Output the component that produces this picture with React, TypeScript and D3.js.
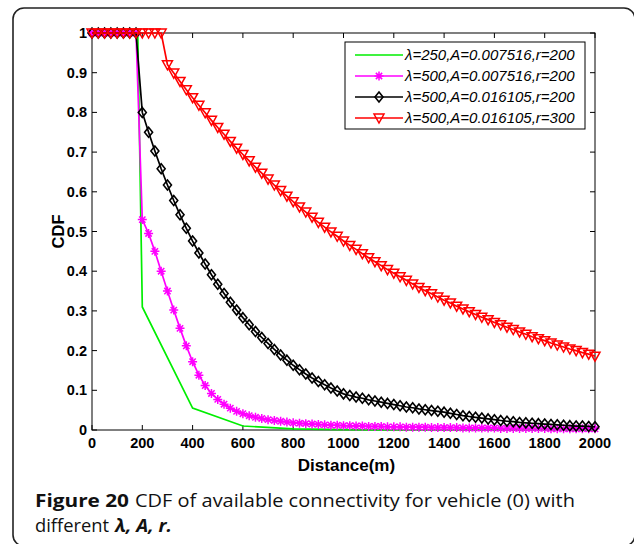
import React from "react";
import * as d3 from "d3";

const X_TICKS = [0, 200, 400, 600, 800, 1000, 1200, 1400, 1600, 1800, 2000];
const Y_TICKS = [0, 0.1, 0.2, 0.3, 0.4, 0.5, 0.6, 0.7, 0.8, 0.9, 1];
const Y_LABELS = ["0", "0.1", "0.2", "0.3", "0.4", "0.5", "0.6", "0.7", "0.8", "0.9", "1"];

const DIST = d3.range(0, 2001, 25);

const GREEN_X = [0, 182, 200, 400, 600, 800, 1000, 1200, 1400, 1600, 1800, 2000];
const GREEN_Y = [1, 1, 0.31, 0.055, 0.01, 0.003, 0.001, 0, 0, 0, 0, 0];

const MAGENTA_Y = [
  1, 1, 1, 1, 1, 1, 1, 1,
  0.530, 0.495, 0.450, 0.400, 0.350, 0.302, 0.256, 0.212, 0.172, 0.138,
  0.112, 0.092, 0.077, 0.065, 0.055, 0.047, 0.041, 0.036, 0.032, 0.029,
  0.026, 0.024, 0.022, 0.020, 0.018, 0.017, 0.016, 0.015, 0.014, 0.013,
  0.012, 0.012, 0.011,
  0.011, 0.010, 0.010, 0.009, 0.009, 0.009, 0.008, 0.008, 0.008, 0.007,
  0.007, 0.007, 0.007, 0.006, 0.006, 0.006, 0.006, 0.006, 0.005, 0.005,
  0.005, 0.005, 0.005, 0.005, 0.004, 0.004, 0.004, 0.004, 0.004, 0.004,
  0.004, 0.004, 0.003, 0.003, 0.003, 0.003, 0.003, 0.003, 0.003, 0.003,
];

const BLACK_Y = [
  1, 1, 1, 1, 1, 1, 1, 1,
  0.800, 0.750, 0.703, 0.658, 0.617, 0.578, 0.542, 0.508, 0.476, 0.446,
  0.418, 0.391, 0.367, 0.344, 0.322, 0.302, 0.283, 0.265, 0.248, 0.233,
  0.218,
  0.203, 0.189, 0.176, 0.163, 0.152, 0.141, 0.131, 0.122, 0.114, 0.106,
  0.098, 0.091,
  0.087, 0.083, 0.080, 0.076, 0.073, 0.070, 0.067, 0.064, 0.061, 0.058,
  0.056, 0.053, 0.051, 0.049, 0.047, 0.045,
  0.042, 0.039, 0.036, 0.034, 0.032, 0.030, 0.028, 0.026, 0.024, 0.022,
  0.021, 0.019, 0.018, 0.017, 0.016, 0.015, 0.014, 0.013, 0.012, 0.011,
  0.010, 0.010, 0.009, 0.008,
];

const RED_Y = [
  1, 1, 1, 1, 1, 1, 1, 1, 1, 1, 1, 1,
  0.920, 0.899, 0.878, 0.857, 0.837, 0.818, 0.799, 0.780, 0.762, 0.745,
  0.727, 0.710, 0.694, 0.678, 0.662, 0.647, 0.632, 0.617, 0.603, 0.589,
  0.575, 0.562, 0.549, 0.536, 0.523, 0.511, 0.499, 0.488, 0.476, 0.465,
  0.455, 0.444, 0.434, 0.424, 0.414, 0.404, 0.395, 0.386, 0.377, 0.368,
  0.359, 0.351, 0.343, 0.335, 0.327, 0.320, 0.312, 0.305, 0.298, 0.291,
  0.284, 0.278, 0.271, 0.265, 0.259, 0.253, 0.247, 0.241, 0.235, 0.230,
  0.225, 0.219, 0.214, 0.209, 0.204, 0.200, 0.195, 0.191, 0.186,
];

const LEGEND = [
  "λ=250,A=0.007516,r=200",
  "λ=500,A=0.007516,r=200",
  "λ=500,A=0.016105,r=200",
  "λ=500,A=0.016105,r=300",
];
const COLORS = ["#00ee00", "#ff00ff", "#000000", "#ff0000"];

const M = { left: 92, right: 595, top: 33, bottom: 430 };

function Star({ x, y, c }: { x: number; y: number; c: string }) {
  const r = 4.5;
  const d = r * 0.7;
  return (
    <path
      d={`M${x - r},${y}H${x + r}M${x},${y - r}V${y + r}M${x - d},${y - d}L${x + d},${y + d}M${x - d},${y + d}L${x + d},${y - d}`}
      stroke={c}
      strokeWidth={1.5}
      fill="none"
    />
  );
}
function Diamond({ x, y }: { x: number; y: number }) {
  return (
    <path
      d={`M${x},${y - 5}L${x + 4},${y}L${x},${y + 5}L${x - 4},${y}Z`}
      stroke="#000"
      strokeWidth={1.6}
      fill="none"
    />
  );
}
function Tri({ x, y }: { x: number; y: number }) {
  return (
    <path
      d={`M${x - 5},${y - 4}L${x + 5},${y - 4}L${x},${y + 5}Z`}
      stroke="#ff0000"
      strokeWidth={1.5}
      fill="none"
    />
  );
}

export default function App() {
  const x = d3.scaleLinear().domain([0, 2000]).range([M.left, M.right]);
  const y = d3.scaleLinear().domain([0, 1]).range([M.bottom, M.top]);
  const line = d3
    .line<[number, number]>()
    .x((d) => x(d[0]))
    .y((d) => y(d[1]));

  const green: [number, number][] = GREEN_X.map((v, i) => [v, GREEN_Y[i]]);
  const mag: [number, number][] = DIST.map((v, i) => [v, MAGENTA_Y[i]]);
  const blk: [number, number][] = DIST.map((v, i) => [v, BLACK_Y[i]]);
  const red: [number, number][] = DIST.map((v, i) => [v, RED_Y[i]]);

  const tickFont = {
    fontFamily: "'Liberation Sans', Arial, sans-serif",
    fontSize: 14.5,
    fontWeight: 700 as const,
  };
  const capFont = "'Open Sans', 'Noto Sans', sans-serif";
  const capSize = 17.5;

  const legX = 345,
    legY = 42,
    legW = 240,
    legH = 87;
  const rowY = [55, 76, 97, 118];

  return (
    <svg
      width={634}
      height={544}
      style={{ position: "absolute", left: 0, top: 0, background: "#fff" }}
    >
      <rect x={0} y={0} width={634} height={544} fill="#fff" />
      <rect
        x={13}
        y={8}
        width={622}
        height={538}
        rx={11}
        ry={11}
        fill="none"
        stroke="#222"
        strokeWidth={1.6}
      />
      <rect
        x={M.left}
        y={M.top}
        width={M.right - M.left}
        height={M.bottom - M.top}
        fill="#fff"
        stroke="#000"
        strokeWidth={1}
      />
      {X_TICKS.map((t) => (
        <g key={"x" + t}>
          <line x1={x(t)} x2={x(t)} y1={M.bottom} y2={M.bottom - 5} stroke="#000" />
          <line x1={x(t)} x2={x(t)} y1={M.top} y2={M.top + 5} stroke="#000" />
          <text x={x(t)} y={M.bottom + 18} textAnchor="middle" {...tickFont}>
            {t}
          </text>
        </g>
      ))}
      {Y_TICKS.map((t, i) => (
        <g key={"y" + t}>
          <line x1={M.left} x2={M.left + 5} y1={y(t)} y2={y(t)} stroke="#000" />
          <line x1={M.right} x2={M.right - 5} y1={y(t)} y2={y(t)} stroke="#000" />
          <text x={M.left - 5} y={y(t) + 5} textAnchor="end" {...tickFont}>
            {Y_LABELS[i]}
          </text>
        </g>
      ))}

      <path d={line(green) || ""} stroke={COLORS[0]} strokeWidth={1.7} fill="none" />
      <path d={line(mag) || ""} stroke={COLORS[1]} strokeWidth={1.7} fill="none" />
      {mag.map((d, i) => (
        <Star key={"m" + i} x={x(d[0])} y={y(d[1])} c={COLORS[1]} />
      ))}
      <path d={line(blk) || ""} stroke={COLORS[2]} strokeWidth={1.7} fill="none" />
      {blk.map((d, i) => (
        <Diamond key={"b" + i} x={x(d[0])} y={y(d[1])} />
      ))}
      <path d={line(red) || ""} stroke={COLORS[3]} strokeWidth={1.7} fill="none" />
      {red.map((d, i) => (
        <Tri key={"r" + i} x={x(d[0])} y={y(d[1])} />
      ))}

      <rect x={legX} y={legY} width={legW} height={legH} fill="#fff" stroke="#000" strokeWidth={1} />
      {LEGEND.map((s, i) => (
        <g key={"l" + i}>
          <line x1={355} x2={403} y1={rowY[i]} y2={rowY[i]} stroke={COLORS[i]} strokeWidth={1.7} />
          {i === 1 && <Star x={379} y={rowY[i]} c={COLORS[1]} />}
          {i === 2 && <Diamond x={379} y={rowY[i]} />}
          {i === 3 && <Tri x={379} y={rowY[i]} />}
          <text
            x={405}
            y={rowY[i] + 5}
            fontFamily="'Liberation Sans', Arial, sans-serif"
            fontSize={15}
            fontStyle="italic"
          >
            {s}
          </text>
        </g>
      ))}

      <text x={(M.left + M.right) / 2 + 3} y={471} textAnchor="middle" {...tickFont} fontSize={17}>
        Distance(m)
      </text>
      <text
        transform={`translate(64,${(M.top + M.bottom) / 2}) rotate(-90)`}
        textAnchor="middle"
        {...tickFont}
        fontSize={16.5}
      >
        CDF
      </text>

      <text x={35} y={507} fontFamily={capFont} fontSize={capSize} fontWeight={700} fill="#111" textLength={94} lengthAdjust="spacingAndGlyphs">
        Figure 20
      </text>
      <text x={135} y={507} fontFamily={capFont} fontSize={capSize} fill="#111" textLength={440} lengthAdjust="spacingAndGlyphs">
        CDF of available connectivity for vehicle (0) with
      </text>
      <text x={35} y={532} fontFamily={capFont} fontSize={capSize} fill="#111" textLength={74} lengthAdjust="spacingAndGlyphs">
        different
      </text>
      <text x={115} y={532} fontFamily={capFont} fontSize={capSize} fontWeight={700} fontStyle="italic" fill="#111" textLength={57} lengthAdjust="spacingAndGlyphs">
        λ, A, r.
      </text>
    </svg>
  );
}
